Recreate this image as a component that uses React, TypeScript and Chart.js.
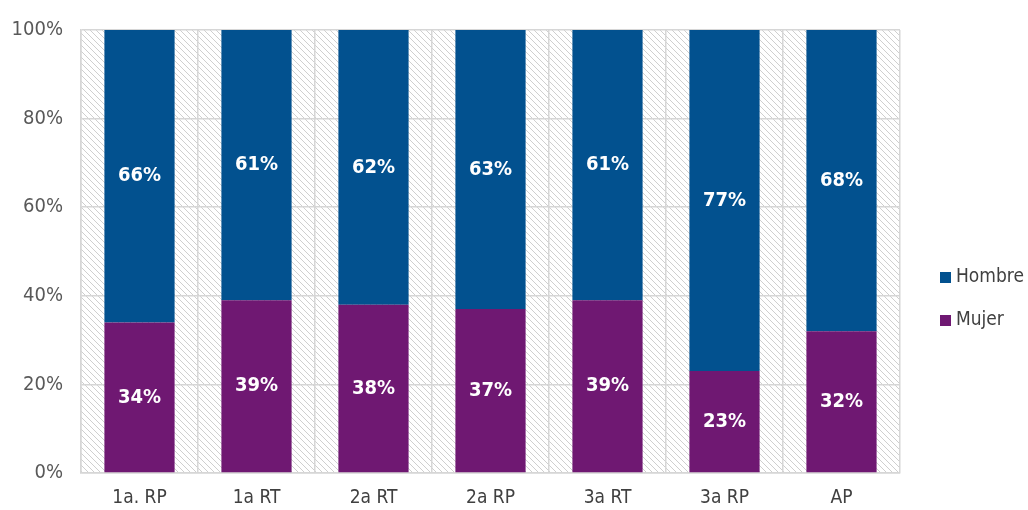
import React, { useEffect, useRef } from "react";
import { Chart, registerables } from "chart.js";

Chart.register(...registerables);

const categories = ["1a. RP", "1a RT", "2a RT", "2a RP", "3a RT", "3a RP", "AP"];
const mujerValues = [34, 39, 38, 37, 39, 23, 32];
const hombreValues = [66, 61, 62, 63, 61, 77, 68];
const yTicks = [0, 20, 40, 60, 80, 100];

const BLUE = "#02518F";
const PURPLE = "#6F1872";
const FONT = "'Liberation Sans Narrow', 'DejaVu Sans Condensed', 'Roboto Condensed', 'Open Sans', sans-serif";

function makeHatch(ctx: CanvasRenderingContext2D) {
  const s = 6;
  const c = document.createElement("canvas");
  c.width = s;
  c.height = s;
  const g = c.getContext("2d")!;
  g.fillStyle = "#ffffff";
  g.fillRect(0, 0, s, s);
  g.strokeStyle = "#cfcfcf";
  g.lineWidth = 1;
  g.beginPath();
  for (let k = -1; k <= 1; k++) {
    g.moveTo(k * s - 1, -1);
    g.lineTo(k * s + s + 1, s + 1);
  }
  g.stroke();
  return ctx.createPattern(c, "repeat");
}

const hatchPlugin = {
  id: "hatchBg",
  beforeDraw(chart: any) {
    const { ctx, chartArea } = chart;
    const p = makeHatch(ctx);
    ctx.save();
    ctx.fillStyle = p || "#fff";
    ctx.fillRect(chartArea.left, chartArea.top, chartArea.right - chartArea.left, chartArea.bottom - chartArea.top);
    ctx.restore();
  },
};

const labelPlugin = {
  id: "barLabels",
  afterDatasetsDraw(chart: any) {
    const { ctx } = chart;
    ctx.save();
    ctx.fillStyle = "#ffffff";
    ctx.font = `bold 20px ${FONT}`;
    ctx.textAlign = "center";
    ctx.textBaseline = "middle";
    chart.data.datasets.forEach((ds: any, di: number) => {
      const meta = chart.getDatasetMeta(di);
      meta.data.forEach((el: any, i: number) => {
        const v = ds.data[i];
        const y = (el.y + el.base) / 2;
        ctx.fillText(`${v}%`, el.x, y);
      });
    });
    ctx.restore();
  },
};

const legendPlugin = {
  id: "customLegend",
  afterDraw(chart: any) {
    const { ctx } = chart;
    const items = [
      { label: "Hombre", color: BLUE, y: 277 },
      { label: "Mujer", color: PURPLE, y: 320 },
    ];
    ctx.save();
    ctx.font = `19px ${FONT}`;
    ctx.textBaseline = "middle";
    ctx.textAlign = "left";
    items.forEach((it) => {
      ctx.fillStyle = it.color;
      ctx.fillRect(940, it.y - 5, 11, 11);
      ctx.fillStyle = "#404040";
      ctx.fillText(it.label, 956, it.y);
    });
    ctx.restore();
  },
};

export default function App() {
  const ref = useRef<HTMLCanvasElement>(null);
  useEffect(() => {
    document.body.style.margin = "0";
    const chart = new Chart(ref.current!, {
      type: "bar",
      data: {
        labels: categories,
        datasets: [
          { label: "Mujer", data: mujerValues, backgroundColor: PURPLE, categoryPercentage: 1, barPercentage: 0.6 },
          { label: "Hombre", data: hombreValues, backgroundColor: BLUE, categoryPercentage: 1, barPercentage: 0.6 },
        ],
      },
      options: {
        responsive: false,
        animation: false,
        layout: { padding: { top: 28, right: 128, left: 0, bottom: 0 } },
        plugins: { legend: { display: false }, tooltip: { enabled: false } },
        scales: {
          x: {
            stacked: true,
            grid: { color: "#d6d6d6", lineWidth: 1.5, drawTicks: false, offset: true },
            border: { color: "#d6d6d6", width: 1.5 },
            ticks: { color: "#404040", font: { family: FONT, size: 19 }, padding: 14 },
            afterFit: (s: any) => { s.height = 37; },
          },
          y: {
            stacked: true,
            min: 0,
            max: 100,
            afterBuildTicks: (s: any) => { s.ticks = yTicks.map((v) => ({ value: v })); },
            grid: { color: "#d6d6d6", lineWidth: 1.5, drawTicks: false },
            border: { color: "#d6d6d6", width: 1.5 },
            ticks: { color: "#595959", font: { family: FONT, size: 20 }, padding: 18, callback: (v: any) => `${v}%` },
            afterFit: (s: any) => { s.width = 81; },
          },
        },
      },
      plugins: [hatchPlugin, labelPlugin, legendPlugin],
    });
    return () => chart.destroy();
  }, []);
  return (
    <div>
      <canvas ref={ref} width={1028} height={510} style={{ display: "block" }} />
    </div>
  );
}
